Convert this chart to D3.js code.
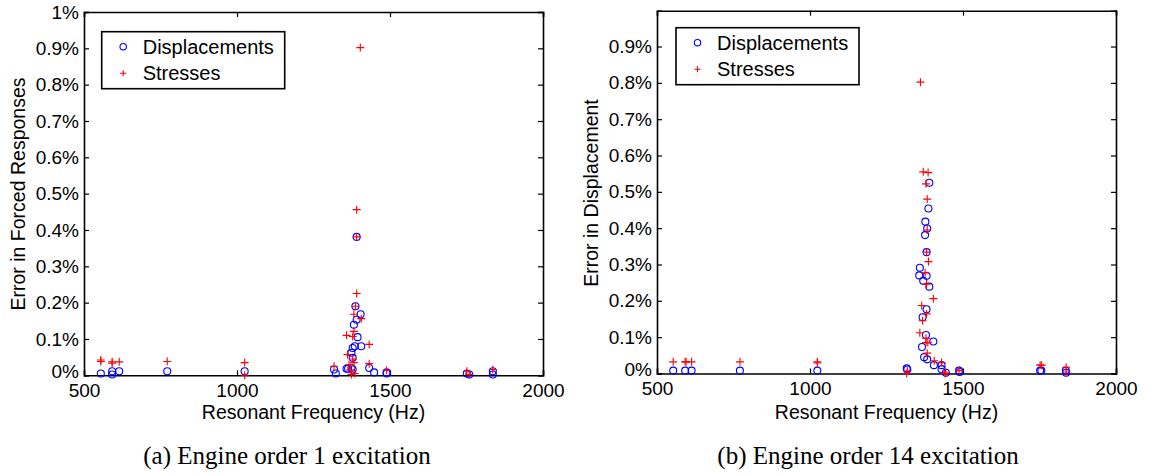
<!DOCTYPE html>
<html>
<head>
<meta charset="utf-8">
<script src="https://cdn.jsdelivr.net/npm/d3@7"></script>
<style>
  body { margin: 0; background: #fff; }
  svg { display: block; }
  text { font-family: "Liberation Sans", Arial, sans-serif; fill: #000; }
</style>
</head>
<body>
<div id="chart"></div>
<script>
// Error vs resonant frequency, two engine orders
// values are [Hz, error in %]

const xTicks = [500, 1000, 1500, 2000]
const yTicksA = [0, 0.1, 0.2, 0.3, 0.4, 0.5, 0.6, 0.7, 0.8, 0.9, 1]
const yTicksB = [0, 0.1, 0.2, 0.3, 0.4, 0.5, 0.6, 0.7, 0.8, 0.9]
const legendLabels = ['Displacements', 'Stresses']

// (a) engine order 1
const dispA = [
  [555, 0.005], [592, 0.011], [592, 0.002], [615, 0.011], [772, 0.011], [1025, 0.011],
  [1317, 0.016], [1323, 0.005], [1358, 0.018], [1363, 0.018], [1374, 0.020], [1378, 0.016],
  [1374, 0.062], [1378, 0.048], [1378, 0.075], [1385, 0.080], [1406, 0.080], [1394, 0.105],
  [1382, 0.139], [1391, 0.153], [1404, 0.168], [1387, 0.190], [1391, 0.381], [1432, 0.020],
  [1448, 0.008], [1489, 0.005], [1489, 0.008], [1751, 0.005], [1759, 0.002], [1836, 0.011],
  [1836, 0.002]
]
const stressA = [
  [555, 0.042], [555, 0.038], [592, 0.037], [592, 0.033], [615, 0.037], [772, 0.038],
  [1025, 0.035], [1025, 0.0], [1317, 0.025], [1361, 0.057], [1366, 0.029], [1374, 0.002],
  [1378, 0.107], [1358, 0.110], [1382, 0.121], [1378, 0.045], [1382, 0.168], [1387, 0.190],
  [1391, 0.225], [1391, 0.381], [1391, 0.456], [1403, 0.902], [1406, 0.156], [1432, 0.085],
  [1432, 0.032], [1489, 0.014], [1751, 0.011], [1759, 0.002], [1836, 0.016], [1382, 0.035],
  [1370, 0.015], [1385, 0.005]
]

// (b) engine order 14
const dispB = [
  [553, 0.008], [592, 0.008], [613, 0.008], [771, 0.008], [1024, 0.008],
  [1316, 0.014], [1318, 0.011], [1366, 0.073], [1373, 0.045], [1383, 0.039], [1379, 0.106],
  [1403, 0.088], [1368, 0.155], [1381, 0.177], [1390, 0.239], [1370, 0.255], [1357, 0.270],
  [1381, 0.269], [1359, 0.291], [1381, 0.334], [1376, 0.381], [1383, 0.399], [1377, 0.418],
  [1387, 0.454], [1390, 0.525], [1405, 0.023], [1430, 0.023], [1430, 0.012], [1444, 0.002],
  [1487, 0.008], [1489, 0.004], [1752, 0.008], [1756, 0.008], [1836, 0.008], [1837, 0.002]
]
const stressB = [
  [553, 0.032], [592, 0.032], [595, 0.032], [613, 0.032], [771, 0.032], [1024, 0.032],
  [1024, 0.029], [1316, 0.0], [1318, 0.007], [1359, 0.112], [1365, 0.187], [1368, 0.145],
  [1379, 0.097], [1379, 0.085], [1385, 0.085], [1383, 0.056], [1381, 0.164], [1403, 0.206],
  [1381, 0.246], [1376, 0.277], [1387, 0.308], [1381, 0.334], [1383, 0.395], [1383, 0.480],
  [1379, 0.522], [1370, 0.555], [1386, 0.553], [1361, 0.802], [1406, 0.035], [1430, 0.030],
  [1444, 0.002], [1441, 0.0], [1487, 0.008], [1752, 0.023], [1757, 0.023], [1837, 0.017],
  [1837, 0.004]
]

const W = 1151, H = 476
const svg = d3.select('#chart').append('svg')
  .attr('width', W)
  .attr('height', H)

function drawPanel(opt) {
  const x = d3.scaleLinear().domain([500, 2000]).range([opt.left, opt.right])
  const y = d3.scaleLinear().domain([0, opt.ymax]).range([opt.bottom, opt.top])
  const g = svg.append('g')
  const fmt = (d) => d3.format('.1~f')(d) + '%'

  // box ticks (inside, all four sides)
  const tk = 5
  g.append('g').attr('transform', `translate(0,${opt.bottom})`)
    .call(d3.axisBottom(x).tickValues(xTicks).tickSize(-tk).tickPadding(8).tickFormat(d3.format('d')))
  g.append('g').attr('transform', `translate(0,${opt.top})`)
    .call(d3.axisTop(x).tickValues(xTicks).tickSize(-tk).tickFormat(''))
  let yAx = g.append('g').attr('transform', `translate(${opt.left},0)`)
    .call(d3.axisLeft(y).tickValues(opt.yTicks).tickSize(-tk).tickPadding(5).tickFormat(fmt))
  g.append('g').attr('transform', `translate(${opt.right},0)`)
    .call(d3.axisRight(y).tickValues(opt.yTicks).tickSize(-tk).tickFormat(''))

  g.selectAll('.domain').attr('stroke', '#000').attr('stroke-width', 1.6)
  g.selectAll('.tick line').attr('stroke', '#000').attr('stroke-width', 1.2)
  g.selectAll('.tick text').style('font-size', '19px').attr('fill', '#000')
    .style('font-family', '"Liberation Sans", Arial, sans-serif')
  // lift the 0% label a little so it clears the 500 label
  yAx.selectAll('.tick text').filter((d) => d === 0).attr('dy', '0.1em')

  // points
  g.selectAll('circle.disp')
    .data(opt.disp)
    .enter()
    .append('circle')
      .attr('class', 'disp')
      .attr('cx', (d) => x(d[0]))
      .attr('cy', (d) => y(d[1]))
      .attr('r', 3.5)
      .attr('fill', 'none')
      .attr('stroke', '#0000ff')
      .attr('stroke-width', 1.1)

  const s = 4
  g.selectAll('path.stress')
    .data(opt.stress)
    .enter()
    .append('path')
      .attr('class', 'stress')
      .attr('d', (d) => {
        let cx = x(d[0]), cy = y(d[1])
        return `M ${cx - s},${cy} L ${cx + s},${cy} M ${cx},${cy - s} L ${cx},${cy + s}`
      })
      .attr('stroke', '#ff0000')
      .attr('stroke-width', 1.1)
      .attr('fill', 'none')

  // legend
  const lg = g.append('g')
  lg.append('rect')
    .attr('x', opt.legend[0]).attr('y', opt.legend[1])
    .attr('width', 183).attr('height', 57)
    .attr('fill', '#fff').attr('stroke', '#000').attr('stroke-width', 1.6)
  lg.append('circle')
    .attr('cx', opt.legend[0] + 21.5).attr('cy', opt.legend[1] + 15)
    .attr('r', 3.2).attr('fill', 'none').attr('stroke', '#0000ff').attr('stroke-width', 1.1)
  let px = opt.legend[0] + 21.5, py = opt.legend[1] + 41.5
  lg.append('path')
    .attr('d', `M ${px - 3},${py} L ${px + 3},${py} M ${px},${py - 3} L ${px},${py + 3}`)
    .attr('stroke', '#ff0000').attr('stroke-width', 1.1)
  lg.selectAll('text')
    .data(legendLabels)
    .enter()
    .append('text')
      .attr('x', opt.legend[0] + 41)
      .attr('y', (d, i) => opt.legend[1] + 15 + i * 26.5)
      .attr('dy', '0.35em')
      .style('font-size', '20px')
      .text((d) => d)

  // axis titles
  svg.append('text')
    .attr('x', (opt.left + opt.right) / 2)
    .attr('y', 412)
    .attr('dy', '0.35em')
    .attr('text-anchor', 'middle')
    .style('font-size', '19.5px')
    .text('Resonant Frequency (Hz)')
  svg.append('text')
    .attr('transform', `translate(${opt.ylabelX},${opt.ylabelY}) rotate(-90)`)
    .attr('dy', '0.35em')
    .attr('text-anchor', 'middle')
    .style('font-size', '19.5px')
    .text(opt.ylabel)

  // caption
  svg.append('text')
    .attr('x', opt.captionX)
    .attr('y', 455)
    .attr('dy', '0.35em')
    .attr('text-anchor', 'middle')
    .style('font-family', '"Liberation Serif", "Times New Roman", serif')
    .style('font-size', '25px')
    .text(opt.caption)
}

drawPanel({
  left: 84, right: 543, top: 12, bottom: 375.3, ymax: 1,
  yTicks: yTicksA, disp: dispA, stress: stressA,
  legend: [101.7, 31.7],
  ylabel: 'Error in Forced Responses', ylabelX: 18, ylabelY: 194,
  caption: '(a) Engine order 1 excitation', captionX: 287
})

drawPanel({
  left: 657, right: 1116, top: 10.7, bottom: 373.5, ymax: 0.9986,
  yTicks: yTicksB, disp: dispB, stress: stressB,
  legend: [676, 27.7],
  ylabel: 'Error in Displacement', ylabelX: 591, ylabelY: 193,
  caption: '(b) Engine order 14 excitation', captionX: 868
})
</script>
</body>
</html>
